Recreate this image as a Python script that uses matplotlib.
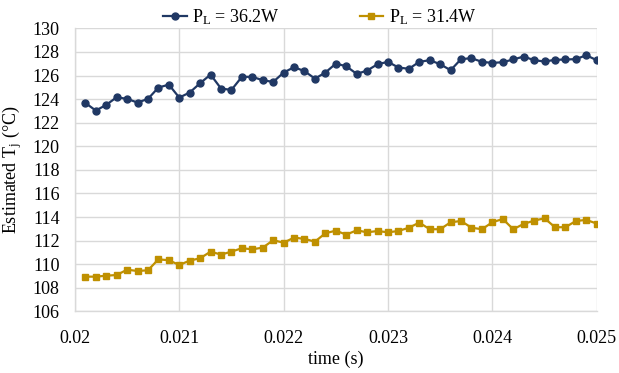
import matplotlib
matplotlib.use("Agg")
import matplotlib.pyplot as plt
import numpy as np

plt.rcParams['font.family'] = ['Liberation Serif']
plt.rcParams['mathtext.fontset'] = 'custom'
plt.rcParams['mathtext.rm'] = 'Liberation Serif'
plt.rcParams['mathtext.it'] = 'Liberation Serif:italic'

time = [round(0.0201 + 0.0001 * i, 4) for i in range(50)]

tj_362 = [123.68, 123.03, 123.51, 124.16, 124.02, 123.71, 124.02, 124.98, 125.23, 124.13,
          124.56, 125.35, 126.08, 124.90, 124.78, 125.89, 125.89, 125.60, 125.46, 126.25,
          126.71, 126.37, 125.74, 126.25, 127.01, 126.79, 126.14, 126.42, 126.96, 127.16,
          126.68, 126.57, 127.16, 127.30, 126.96, 126.45, 127.39, 127.47, 127.16, 127.07,
          127.13, 127.36, 127.61, 127.30, 127.19, 127.33, 127.36, 127.39, 127.72, 127.30]

tj_314 = [108.95, 108.95, 109.03, 109.09, 109.54, 109.43, 109.49, 110.42, 110.34, 109.94,
          110.31, 110.51, 111.07, 110.82, 111.07, 111.36, 111.27, 111.41, 112.04, 111.83,
          112.26, 112.15, 111.92, 112.63, 112.85, 112.51, 112.88, 112.71, 112.82, 112.71,
          112.82, 113.10, 113.53, 112.97, 112.97, 113.56, 113.67, 113.10, 112.97, 113.56,
          113.84, 112.97, 113.42, 113.70, 113.90, 113.14, 113.14, 113.67, 113.76, 113.45]

labels = [r'P$_\mathrm{L}$ = 36.2W', r'P$_\mathrm{L}$ = 31.4W']
xticks = [0.02, 0.021, 0.022, 0.023, 0.024, 0.025]
xticklabels = ['0.02', '0.021', '0.022', '0.023', '0.024', '0.025']
yticks = list(range(106, 131, 2))

fig = plt.figure(figsize=(6.19, 3.73), dpi=100)
ax = fig.add_axes([0.121, 0.165, 0.843, 0.759])

ax.plot(time, tj_362, color='#203864', marker='o', markersize=5, linewidth=1.6, label=labels[0], zorder=3)
ax.plot(time, tj_314, color='#BF9000', marker='s', markersize=4.3, linewidth=1.6, label=labels[1], zorder=3)

ax.set_xlim(0.02, 0.025)
ax.set_ylim(106, 130)
ax.set_xticks(xticks)
ax.set_xticklabels(xticklabels)
ax.set_yticks(yticks)
ax.grid(True, color='#D9D9D9', linewidth=1.0, zorder=0)
ax.set_axisbelow(True)
for s in ['top', 'right']:
    ax.spines[s].set_visible(False)
for s in ['left', 'bottom']:
    ax.spines[s].set_color('#D9D9D9')
    ax.spines[s].set_linewidth(1.0)
ax.tick_params(length=0, labelsize=13)
ax.tick_params(axis='y', pad=11)
ax.tick_params(axis='x', pad=13)

ax.set_xlabel('time (s)', fontsize=13, labelpad=3)
ax.set_ylabel(r'Estimated T$_\mathrm{j}$ (°C)', fontsize=13, labelpad=6)

fig.legend(loc='upper center', bbox_to_anchor=(0.517, 1.025), ncol=2, frameon=False,
           fontsize=13, columnspacing=4.4, handlelength=1.3, handletextpad=0.3)

fig.savefig('out.png', dpi=100)
